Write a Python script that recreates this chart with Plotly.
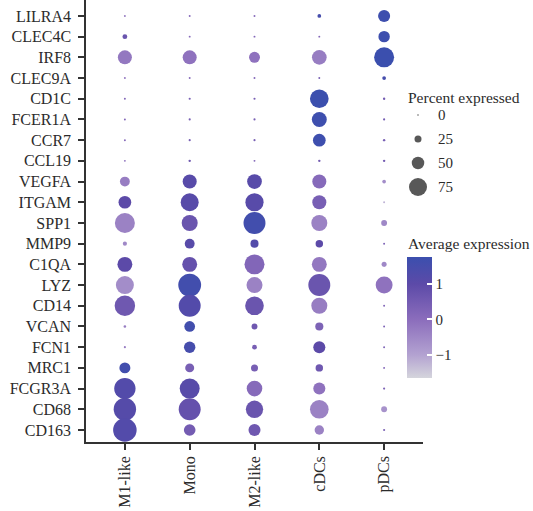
import plotly.graph_objects as go

# Marker genes, listed top to bottom
genes = ["LILRA4", "CLEC4C", "IRF8", "CLEC9A", "CD1C", "FCER1A", "CCR7", "CCL19",
         "VEGFA", "ITGAM", "SPP1", "MMP9", "C1QA", "LYZ", "CD14", "VCAN", "FCN1",
         "MRC1", "FCGR3A", "CD68", "CD163"]
clusters = ["M1-like", "Mono", "M2-like", "cDCs", "pDCs"]

# Percent of cells expressing each gene (per cluster, same gene order)
pct_m1 = [2, 15, 57, 2, 2, 2, 2, 2, 38, 51, 84, 12, 61, 75, 86, 5, 3, 43, 90, 95, 100]
pct_mono = [2, 2, 57, 2, 3, 3, 3, 4, 57, 75, 66, 38, 61, 97, 93, 42, 45, 34, 84, 93, 46]
pct_m2 = [2, 2, 43, 2, 3, 3, 3, 2, 60, 76, 93, 30, 84, 66, 78, 20, 15, 25, 64, 72, 48]
pct_cdc = [10, 2, 60, 2, 78, 61, 51, 4, 57, 57, 66, 27, 61, 93, 66, 30, 48, 27, 48, 78, 36]
pct_pdc = [48, 45, 84, 10, 4, 3, 4, 4, 10, 2, 20, 2, 16, 70, 2, 2, 2, 2, 3, 20, 3]

# Scaled average expression (per cluster, same gene order)
avg_m1 = [-0.3, 0.7, -0.2, -0.2, 0.2, 0.2, 0.1, -0.2, -0.3, 1.0, -0.4, -0.5, 1.0,
          -0.6, 0.6, -0.3, -0.3, 1.6, 1.2, 1.15, 1.2]
avg_mono = [0.1, 0.1, -0.1, 0.1, 0.4, 0.4, 0.4, 0.6, 1.1, 1.1, 0.7, 1.1, 0.8,
            1.6, 1.2, 1.6, 1.5, 0.4, 1.1, 0.8, 0.5]
avg_m2 = [0.1, 0.2, -0.1, 0.2, 0.4, 0.4, 0.4, 0.2, 1.1, 1.1, 1.6, 1.2, 0.2,
          -0.4, 0.7, 0.6, 0.4, 0.4, 0.1, 0.7, 0.6]
avg_cdc = [1.5, 0.2, -0.3, 0.4, 1.75, 1.7, 1.7, 0.5, 0.1, 0.4, -0.4, 1.0, -0.2,
           0.7, -0.3, 0.3, 1.0, 0.6, -0.1, -0.4, -0.4]
avg_pdc = [1.7, 1.7, 1.75, 1.5, 0.5, 0.5, 0.4, 0.5, -0.6, -1.2, -0.5, 0.3, -0.5,
           -0.1, 0.2, 0.3, 0.3, 0.2, 0.3, -0.7, 0.3]

# Size legend entries
legend_pct = [0, 25, 50, 75]
cbar_ticks = [-1, 0, 1]

pct_cols = [pct_m1, pct_mono, pct_m2, pct_cdc, pct_pdc]
avg_cols = [avg_m1, avg_mono, avg_m2, avg_cdc, avg_pdc]

CMIN, CMAX = -1.65, 1.76
FONT = "Liberation Serif"
TXT = "#2b2b2b"


def dot_size(p):
    return 1.5 + 0.22 * p


def norm(v):
    return (v - CMIN) / (CMAX - CMIN)


colorscale = [
    [0.0, "#d5d5dc"],
    [norm(-1), "#b3a2d1"],
    [norm(0), "#8b6dbc"],
    [norm(1), "#5c4aa8"],
    [1.0, "#3b4fae"],
]

# Layout geometry (pixels)
W, H = 533, 511
ML, MB = 86, 69
PW = W - ML           # paper width
PH = H - MB           # paper height
main_right = 423


def px_x(x):
    return (x - ML) / PW


def px_y(y):
    return (PH - y) / PH


n = len(genes)
xs, ys, sz, col = [], [], [], []
for ci, cl in enumerate(clusters):
    for gi, g in enumerate(genes):
        xs.append(ci)
        ys.append(n - 1 - gi)
        sz.append(dot_size(pct_cols[ci][gi]))
        col.append(avg_cols[ci][gi])

fig = go.Figure()

cb_top, cb_len = 257, 121
fig.add_trace(go.Scatter(
    x=xs, y=ys, mode="markers", showlegend=False,
    marker=dict(
        size=sz, color=col, colorscale=colorscale, cmin=CMIN, cmax=CMAX,
        line=dict(width=0), opacity=1,
        colorbar=dict(
            x=px_x(407), xanchor="left", xpad=0,
            y=px_y(cb_top), yanchor="top", ypad=0,
            len=cb_len, lenmode="pixels", thickness=25,
            outlinewidth=0,
            tickvals=cbar_ticks, ticks="inside", ticklen=5,
            tickcolor="white", tickwidth=1.5,
            tickfont=dict(family=FONT, size=15, color=TXT),
        ),
    ),
))

# Size legend
fig.add_trace(go.Scatter(
    x=[0] * len(legend_pct), y=[str(p) for p in legend_pct],
    xaxis="x2", yaxis="y2", mode="markers", showlegend=False,
    marker=dict(size=[dot_size(p) for p in legend_pct], color="#111111",
                line=dict(width=0)),
))

axis_common = dict(showgrid=False, zeroline=False, showline=True,
                   linecolor="#333333", linewidth=1.5, ticks="outside",
                   ticklen=6, tickwidth=1.5, tickcolor="#333333",
                   tickfont=dict(family=FONT, size=16, color=TXT))

fig.update_layout(
    width=W, height=H, margin=dict(l=ML, r=0, t=0, b=MB),
    plot_bgcolor="white", paper_bgcolor="white",
    xaxis=dict(domain=[0, px_x(main_right)], range=[-0.6, 4.6],
               tickmode="array", tickvals=list(range(len(clusters))),
               ticktext=clusters, tickangle=-90, **axis_common),
    yaxis=dict(range=[-0.58, n - 1 + 0.77], tickmode="array",
               tickvals=list(range(n)), ticktext=genes[::-1],
               ticklabelstandoff=4, **axis_common),
    xaxis2=dict(domain=[px_x(404), px_x(432)], range=[-1, 1], anchor="y2",
                visible=False),
    yaxis2=dict(domain=[px_y(199), px_y(103)], anchor="x2", side="right",
                type="category", categoryorder="array",
                categoryarray=[str(p) for p in legend_pct],
                range=[len(legend_pct) - 0.5, -0.5],
                showgrid=False, zeroline=False, showline=False, ticks="",
                ticklabelstandoff=5,
                tickfont=dict(family=FONT, size=15, color=TXT)),
    annotations=[
        dict(text="Percent expressed", x=px_x(406), y=px_y(97), xref="paper",
             yref="paper", xanchor="left", yanchor="middle", showarrow=False,
             font=dict(family=FONT, size=15.5, color=TXT)),
        dict(text="Average expression", x=px_x(406), y=px_y(243), xref="paper",
             yref="paper", xanchor="left", yanchor="middle", showarrow=False,
             font=dict(family=FONT, size=15.5, color=TXT)),
    ],
)

# White tick marks on the left edge of the colour bar
for t in cbar_ticks:
    yp = cb_top + (CMAX - t) / (CMAX - CMIN) * cb_len
    fig.add_shape(type="line", xref="paper", yref="paper",
                  x0=px_x(407), x1=px_x(412), y0=px_y(yp), y1=px_y(yp),
                  line=dict(color="white", width=1.5))

fig.write_html("out.html")
